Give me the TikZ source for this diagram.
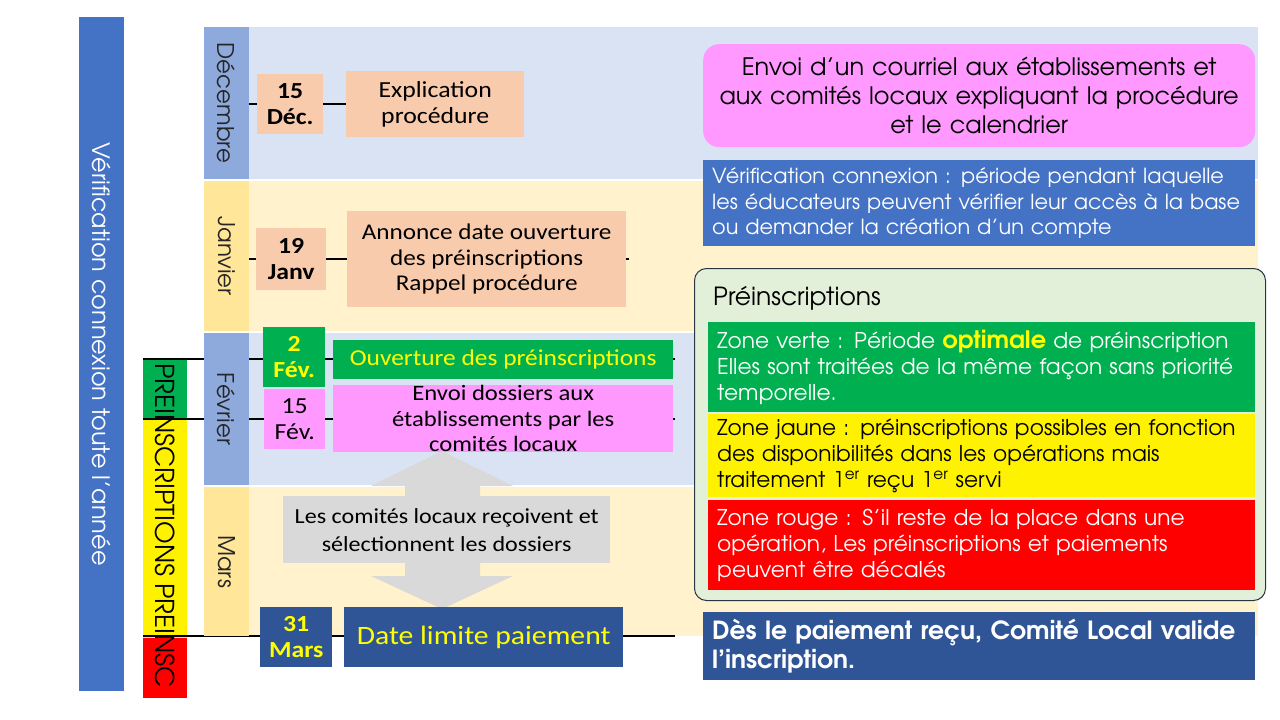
\documentclass[tikz,border=0pt]{standalone}
\usepackage{fontspec}
\setmainfont{Carlito}[FakeStretch=1.12]
\newfontfamily\gothic{texgyreadventor}[Extension=.otf, UprightFont=*-regular, BoldFont=*-bold]
\usepackage{tikz}
\tikzset{>=latex}
\usetikzlibrary{positioning}
\definecolor{blueacc}{HTML}{4472C4}
\definecolor{monthblue}{HTML}{8EA9DB}
\definecolor{rowblue}{HTML}{DAE3F3}
\definecolor{monthgold}{HTML}{FFE699}
\definecolor{rowgold}{HTML}{FFF2CC}
\definecolor{peach}{HTML}{F8CBAD}
\definecolor{pinkbox}{HTML}{FF99FF}
\definecolor{greenbox}{HTML}{00B050}
\definecolor{navy}{HTML}{2F5597}
\definecolor{panelgreen}{HTML}{E2F0D9}
\definecolor{panelline}{HTML}{2B3645}
\definecolor{arrowgrey}{HTML}{D9D9D9}
\definecolor{yellowtext}{HTML}{FFFF00}

\tikzset{
    month/.style={rotate=-90, minimum height=45, inner sep=0, text=black!85,
        font=\gothic\fontsize{23}{26}\selectfont},
    datebox/.style={anchor=north west, inner sep=0, align=center,
        font=\bfseries\fontsize{23}{26}\selectfont},
    stepbox/.style={anchor=north west, inner sep=0, align=center,
        font=\fontsize{23}{26}\selectfont},
    infobox/.style={anchor=north west, inner xsep=9, inner ysep=0, align=left,
        font=\gothic\fontsize{21.7}{26}\selectfont},
    tline/.style={line width=2.5pt, black},
}

\begin{document}
\begin{tikzpicture}[x=1pt, y=-1pt]
    \useasboundingbox (0,0) rectangle (1280,720);
    % bandes des mois
    \foreach \top/\bot/\col in {27/179/rowblue, 181/331/rowgold, 333/485/rowblue, 487/636/rowgold}
        \fill[\col] (204,\top) rectangle (1258,\bot);

    % barres verticales a gauche
    \node[fill=blueacc, rotate=-90, minimum width=674, minimum height=45, inner sep=0,
        text=white, font=\gothic\fontsize{24}{26}\selectfont] (verif) at (101.5,354)
        {Vérification connexion toute l’année};
    \fill[greenbox] (143,360) rectangle (187,419);
    \fill[yellow] (143,419) rectangle (187,638);
    \fill[red] (143,638) rectangle (187,698);
    \node[rotate=-90, anchor=west, inner sep=0, font=\gothic\fontsize{26}{28}\selectfont]
        (prebar) at (165,363) {PREINSCRIPTIONS PREINSC};

    % lignes de Fevrier et Mars
    \coordinate (f2a) at (143,359);
    \coordinate (f2b) at (675,359);
    \coordinate (f15a) at (143,419);
    \coordinate (f15b) at (675,419);
    \coordinate (m31a) at (143,636);
    \coordinate (m31b) at (675,636);
    \draw[tline] (f2a) -- (f2b);
    \draw[tline] (f15a) -- (f15b);
    \draw[tline] (m31a) -- (m31b);

    \foreach \name/\lbl/\top/\bot/\col in {dec/Décembre/27/179/monthblue, jan/Janvier/181/331/monthgold,
        feb/Février/333/485/monthblue, mar/Mars/487/636/monthgold}
        \node[month, fill=\col, minimum width=\bot-\top] (\name) at (226.5,{(\top+\bot)/2}) {\lbl};

    % etapes
    \node[datebox, fill=peach, minimum width=66, minimum height=60] (d15) at (257,74) {15\\Déc.};
    \node[stepbox, fill=peach, minimum width=178, minimum height=66] (expl) at (346,71)
        {Explication\\procédure};
    \node[datebox, fill=peach, minimum width=70, minimum height=62] (d19) at (256,228) {19\\Janv};
    \node[stepbox, fill=peach, minimum width=279, minimum height=96, font=\fontsize{22.5}{25.5}\selectfont]
        (annonce) at (347,211) {Annonce date ouverture\\des préinscriptions\\Rappel procédure};
    \node[datebox, fill=greenbox, text=yellowtext, minimum width=62, minimum height=60] (d2) at (263,327)
        {2\\Fév.};
    \node[stepbox, fill=greenbox, text=yellowtext, minimum width=340, minimum height=39,
        font=\fontsize{22.7}{26}\selectfont] (ouverture) at (333,340) {Ouverture des préinscriptions};
    \node[datebox, fill=pinkbox, minimum width=61, minimum height=60, font=\fontsize{23}{26}\selectfont]
        (d15f) at (264,389) {15\\Fév.};
    \node[stepbox, fill=pinkbox, minimum width=340, minimum height=67, font=\fontsize{22}{25.5}\selectfont]
        (envoi) at (333,385) {Envoi dossiers aux\\établissements par les\\comités locaux};
    \fill[arrowgrey] (442,451) -- (513,486) -- (480,486) -- (480,576) -- (513,576) -- (442,609)
        -- (371,576) -- (405,576) -- (405,486) -- (371,486) -- cycle;
    \node[stepbox, fill=arrowgrey, minimum width=327, minimum height=67, font=\fontsize{21.5}{28}\selectfont]
        (selection) at (283,496) {Les comités locaux reçoivent et\\sélectionnent les dossiers};
    \node[datebox, fill=navy, text=yellowtext, minimum width=72, minimum height=60] (d31) at (260,607)
        {31\\Mars};
    \node[stepbox, fill=navy, text=yellowtext, minimum width=279, minimum height=60,
        font=\fontsize{26.5}{28}\selectfont] (limite) at (344,607) {Date limite paiement};

    \draw[tline] (dec.north |- d15) -- (d15) -- (expl);
    \draw[tline] (jan.north |- d19) -- (d19) -- (annonce) (annonce.east) -- ++(3,0);

    % encadres de droite
    \node[infobox, fill=pinkbox, rounded corners=16, text width=534, minimum height=103, align=center,
        font=\gothic\fontsize{24}{29}\selectfont] (courriel) at (703,44)
        {Envoi d’un courriel aux établissements et\\aux comités locaux expliquant la procédure\\et le calendrier};
    \node[infobox, fill=blueacc, text=white, text width=534, minimum height=86,
        font=\gothic\fontsize{20.8}{25.5}\selectfont] (connexion) at (703,160)
        {Vérification connexion : période pendant laquelle\\les éducateurs peuvent vérifier leur accès à la base\\ou demander la création d’un compte};
    \node[anchor=north west, draw=panelline, line width=1pt, fill=panelgreen, rounded corners=12,
        minimum width=571, minimum height=332, inner sep=0] (panel) at (694,268) {};
    \node[anchor=west, inner sep=0, font=\gothic\fontsize{25}{28}\selectfont] (paneltitle) at (713,298)
        {Préinscriptions};
    \node[infobox, fill=greenbox, text=white, text width=529, minimum height=90] (zverte) at (708,322)
        {Zone verte : Période {\color{yellowtext}\bfseries\fontsize{24}{26}\selectfont optimale} de préinscription\\Elles sont traitées de la même façon sans priorité\\temporelle.};
    \node[infobox, fill=yellow, text width=529, minimum height=83] (zjaune) at (708,414)
        {Zone jaune : préinscriptions possibles en fonction\\des disponibilités dans les opérations mais\\traitement 1\textsuperscript{er} reçu 1\textsuperscript{er} servi};
    \node[infobox, fill=red, text=white, text width=529, minimum height=90] (zrouge) at (708,500)
        {Zone rouge : S’il reste de la place dans une\\opération, Les préinscriptions et paiements\\peuvent être décalés};
    \node[infobox, fill=navy, text=white, text width=534, minimum height=68,
        font=\gothic\bfseries\fontsize{25}{29}\selectfont] (valide) at (703,612)
        {Dès le paiement reçu, Comité Local valide\\l’inscription.};
\end{tikzpicture}
\end{document}
